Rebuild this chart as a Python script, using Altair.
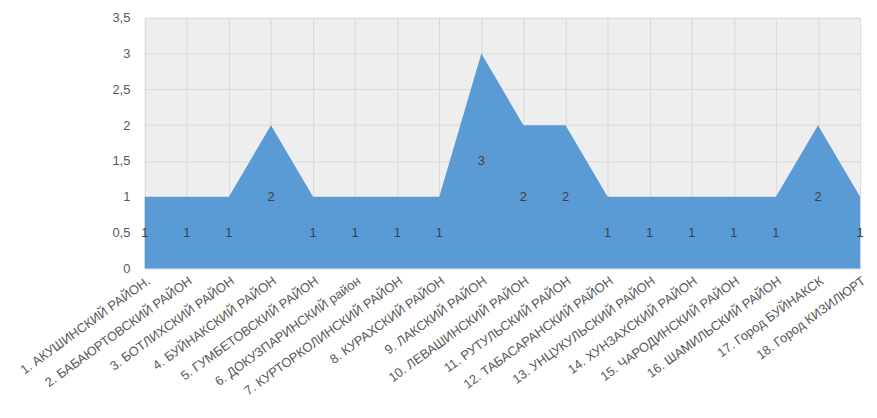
import altair as alt
import pandas as pd

categories = [
    "1. АКУШИНСКИЙ  РАЙОН.",
    "2. БАБАЮРТОВСКИЙ  РАЙОН",
    "3. БОТЛИХСКИЙ  РАЙОН",
    "4. БУЙНАКСКИЙ   РАЙОН",
    "5. ГУМБЕТОВСКИЙ  РАЙОН",
    "6. ДОКУЗПАРИНСКИЙ район",
    "7. КУРТОРКОЛИНСКИЙ РАЙОН",
    "8. КУРАХСКИЙ  РАЙОН",
    "9. ЛАКСКИЙ РАЙОН",
    "10. ЛЕВАШИНСКИЙ РАЙОН",
    "11. РУТУЛЬСКИЙ  РАЙОН",
    "12. ТАБАСАРАНСКИЙ РАЙОН",
    "13. УНЦУКУЛЬСКИЙ  РАЙОН",
    "14. ХУНЗАХСКИЙ РАЙОН",
    "15. ЧАРОДИНСКИЙ   РАЙОН",
    "16. ШАМИЛЬСКИЙ РАЙОН",
    "17. Город БУЙНАКСК",
    "18. Город КИЗИЛЮРТ",
]
values = [1, 1, 1, 2, 1, 1, 1, 1, 3, 2, 2, 1, 1, 1, 1, 1, 2, 1]
y_ticks = [0, 0.5, 1, 1.5, 2, 2.5, 3, 3.5]

df = pd.DataFrame({"cat": categories, "val": values})

x_axis = alt.Axis(labelAngle=-36, labelAlign="right", labelBaseline="top",
                  labelPadding=6, labelFontSize=13, labelColor="#595959",
                  labelFont="Liberation Sans", labelLimit=300, labelOverlap=False,
                  grid=True, gridColor="#d9d9d9", domain=False, ticks=False)
x_scale = alt.Scale(type="point", padding=0)

y_axis = alt.Axis(values=y_ticks,
                  labelExpr="replace(format(datum.value, '.1~f'), '.', ',')",
                  labelFontSize=13, labelColor="#595959", labelFont="Liberation Sans",
                  labelPadding=15, labelOverlap=False, grid=True, gridColor="#d9d9d9",
                  domain=False, ticks=False)
y_scale = alt.Scale(domain=[0, 3.5], nice=False)

base = alt.Chart(df)

area = base.mark_area(color="#5b9bd5", opacity=1).encode(
    x=alt.X("cat:N", sort=categories, title=None, scale=x_scale, axis=x_axis),
    y=alt.Y("val:Q", title=None, scale=y_scale, axis=y_axis),
)

labels = base.transform_calculate(mid="datum.val / 2").mark_text(
    fontSize=13, color="#404040", font="Liberation Sans", baseline="middle"
).encode(
    x=alt.X("cat:N", sort=categories, title=None, scale=x_scale, axis=x_axis),
    y=alt.Y("mid:Q", title=None, scale=y_scale, axis=y_axis),
    text=alt.Text("val:Q"),
)

chart = (area + labels).properties(
    width=722, height=253,
    autosize=alt.AutoSizeParams(type="none"),
    padding={"left": 138, "top": 8, "right": 9, "bottom": 135},
    background="white",
).configure_view(fill="#eeeeee", stroke=None)

chart.save("out.html", embed_options={"renderer": "svg", "actions": False})
